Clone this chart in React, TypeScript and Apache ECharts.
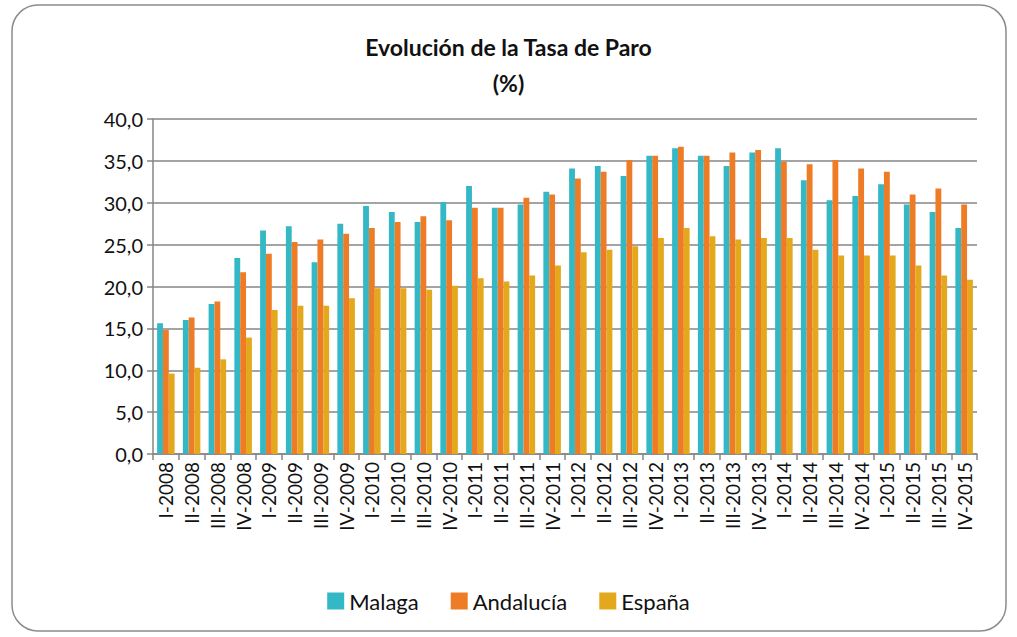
import React, { useEffect, useRef } from "react";
import * as echarts from "echarts";

const categories = [
  "I-2008", "II-2008", "III-2008", "IV-2008",
  "I-2009", "II-2009", "III-2009", "IV-2009",
  "I-2010", "II-2010", "III-2010", "IV-2010",
  "I-2011", "II-2011", "III-2011", "IV-2011",
  "I-2012", "II-2012", "III-2012", "IV-2012",
  "I-2013", "II-2013", "III-2013", "IV-2013",
  "I-2014", "II-2014", "III-2014", "IV-2014",
  "I-2015", "II-2015", "III-2015", "IV-2015",
];

const malaga = [
  15.6, 16.0, 17.9, 23.4, 26.7, 27.2, 22.9, 27.5,
  29.6, 28.9, 27.7, 30.1, 32.0, 29.4, 29.8, 31.3,
  34.1, 34.4, 33.2, 35.6, 36.5, 35.6, 34.4, 36.0,
  36.5, 32.7, 30.3, 30.8, 32.2, 29.8, 28.9, 27.0,
];

const andalucia = [
  14.8, 16.3, 18.2, 21.7, 23.9, 25.3, 25.6, 26.3,
  27.0, 27.7, 28.4, 27.9, 29.4, 29.4, 30.6, 31.0,
  32.9, 33.7, 35.1, 35.6, 36.7, 35.6, 36.0, 36.3,
  34.9, 34.6, 35.1, 34.1, 33.7, 31.0, 31.7, 29.8,
];

const espana = [
  9.6, 10.3, 11.3, 13.9, 17.2, 17.7, 17.7, 18.6,
  19.8, 19.8, 19.6, 20.1, 21.0, 20.6, 21.3, 22.5,
  24.1, 24.4, 24.8, 25.8, 27.0, 26.0, 25.6, 25.8,
  25.8, 24.4, 23.7, 23.7, 23.7, 22.5, 21.3, 20.8,
];

const seriesNames = ["Malaga", "Andalucía", "España"];
const seriesColors = ["#34B8C6", "#EE7B26", "#E3A81C"];

const FONT = "Lato, 'Open Sans', sans-serif";

export default function App() {
  const ref = useRef<HTMLDivElement>(null);

  useEffect(() => {
    if (!ref.current) return;
    const chart = echarts.init(ref.current, null, { renderer: "svg" });
    const dataSets = [malaga, andalucia, espana];
    chart.setOption({
      animation: false,
      backgroundColor: "#ffffff",
      textStyle: { fontFamily: FONT },
      graphic: [
        {
          type: "rect",
          shape: { x: 12, y: 5, width: 994, height: 626, r: 26 },
          style: { fill: "none", stroke: "#8c8c8c", lineWidth: 1.5 },
          silent: true,
        },
      ],
      title: {
        text: "Evolución de la Tasa de Paro\n(%)",
        left: "center",
        top: 24,
        textStyle: {
          fontFamily: FONT,
          fontWeight: "bold",
          fontSize: 23,
          lineHeight: 36,
          color: "#111111",
        },
      },
      legend: {
        bottom: 20,
        left: "center",
        itemWidth: 17,
        itemHeight: 17,
        itemGap: 32,
        icon: "rect",
        textStyle: { fontFamily: FONT, fontSize: 22, color: "#111111" },
        data: seriesNames,
      },
      grid: {
        left: 153,
        right: 40,
        top: 119,
        bottom: 183,
        containLabel: false,
      },
      xAxis: {
        type: "category",
        data: categories,
        axisLine: { lineStyle: { color: "#868686", width: 1.5 } },
        axisTick: {
          show: true,
          alignWithLabel: false,
          length: 6,
          lineStyle: { color: "#868686", width: 1.5 },
        },
        axisLabel: {
          rotate: 90,
          interval: 0,
          fontSize: 19,
          color: "#111111",
          fontFamily: FONT,
          margin: 8,
        },
      },
      yAxis: {
        type: "value",
        min: 0,
        max: 40,
        interval: 5,
        axisLine: { show: true, lineStyle: { color: "#868686", width: 1.5 } },
        axisTick: {
          show: true,
          length: 6,
          lineStyle: { color: "#868686", width: 1.5 },
        },
        splitLine: { lineStyle: { color: "#868686", width: 1.5 } },
        axisLabel: {
          fontSize: 20,
          color: "#111111",
          fontFamily: FONT,
          margin: 10,
          formatter: (v: number) => v.toFixed(1).replace(".", ","),
        },
      },
      series: seriesNames.map((name, i) => ({
        name,
        type: "bar",
        data: dataSets[i],
        barGap: "0%",
        barCategoryGap: "32%",
        itemStyle: { color: seriesColors[i] },
      })),
    });
    return () => chart.dispose();
  }, []);

  return (
    <div
      ref={ref}
      style={{ position: "fixed", left: 0, top: 0, width: 1017, height: 637 }}
    />
  );
}
